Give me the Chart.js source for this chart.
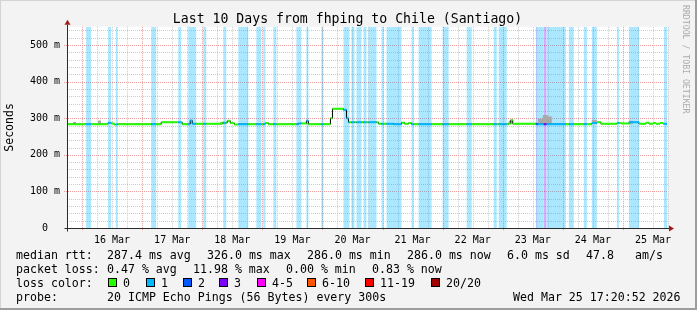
<!DOCTYPE html>
<html>
<head>
<meta charset="utf-8">
<script src="https://cdn.jsdelivr.net/npm/chart.js@4.4.1/dist/chart.umd.min.js"></script>
<style>
  html, body { margin: 0; padding: 0; background: #f3f3f3; }
  #wrap { position: relative; width: 697px; height: 310px; overflow: hidden; background: #f3f3f3;
          font-family: "DejaVu Sans Mono", monospace; color: #000; }
  #chart { position: absolute; left: 0; top: 0; }
  .edge { position: absolute; }
  #title { position: absolute; left: 0; width: 695px; top: 10.5px; text-align: center; font-size: 13.2px;
           line-height: 16px; white-space: pre; }
  .txt { position: absolute; font-size: 11.6px; line-height: 14px; white-space: pre; }
  .sw { position: absolute; width: 7px; height: 7px; border: 1px solid #000; }
  #credit { position: absolute; left: 681px; top: 5px; writing-mode: vertical-rl; font-size: 8.2px;
            line-height: 10px; color: #ababab; white-space: pre; }
</style>
</head>
<body>
<div id="wrap">
  <canvas id="chart" width="697" height="310"></canvas>
  <div class="edge" style="left:0;top:0;width:697px;height:1px;background:#d4d4d4"></div>
  <div class="edge" style="left:0;top:0;width:1px;height:310px;background:#d4d4d4"></div>
  <div class="edge" style="left:695px;top:0;width:2px;height:310px;background:#9c9c9c"></div>
  <div class="edge" style="left:0;top:308px;width:697px;height:2px;background:#9c9c9c"></div>
  <div id="title">Last 10 Days from fhping to Chile (Santiago)</div>
  <div id="credit">RRDTOOL / TOBI OETIKER</div>
  <div id="legend"></div>
</div>

<script>
// ===== Data (x in hours since start of the 10 day window) =====
const dayLabels = ["16 Mar", "17 Mar", "18 Mar", "19 Mar", "20 Mar", "21 Mar", "22 Mar", "23 Mar", "24 Mar", "25 Mar"];

// median rtt in ms, each value holds until the next hour mark
const medianHours = [0, 16.4, 17.6, 18.8, 20, 37.6, 46, 49.2, 50, 62, 64, 65.2, 66.8, 68.4, 79.2, 80.4,
  92.4, 95.6, 96.4, 105.2, 106, 110.4, 111.6, 112.4, 124.4, 130.4, 133.6, 134.8, 136.4, 137.6,
  176.4, 177.2, 178, 187.6, 209.6, 211.6, 213.2, 219.6, 221.2, 224.4, 228.4, 231.2, 232.4, 234,
  235.2, 236.8, 238];
const medianMs = [284, 288, 286, 283, 284, 289, 284, 294, 285, 288, 293, 287, 283, 284, 287, 284,
  286, 293, 284, 300, 326, 323, 300, 289, 285, 284, 288, 285, 287, 284,
  286, 295, 285, 284, 287, 289, 285, 287, 286, 289, 285, 288, 285, 287,
  285, 287, 285];
const lastHour = 239.6;

// packet loss periods: start hour, end hour, loss level (1 = "1", 2 = "2", 3 = "3")
const lossStart = [7.6, 16.4, 19.5, 33.6, 44.4, 48.4, 54.4, 62.4, 68.4, 75.6, 78.4, 82.4, 91.6, 95.6, 101.6,
  110.4, 113.6, 115.6, 118.4, 120.4, 125.6, 127.6, 137.6, 140.4, 150, 159.6, 170.4, 172.4,
  187.2, 188, 190.4, 191.5, 200.4, 206.4, 209.6, 219.6, 224.4, 238.4];
const lossEnd = [9.6, 17.6, 20.3, 35.6, 45.6, 51.6, 55.6, 63.6, 72.4, 77.6, 79.2, 83.6, 93.6, 96.4, 102.4,
  112.8, 114.8, 117.6, 119.6, 123.6, 126.4, 133.6, 138.4, 145.6, 152.4, 161.6, 171.6, 175.6,
  188, 190.4, 191.5, 199.2, 202.4, 207.6, 211.6, 220.4, 228.4, 239.6];
const lossLevel = [1, 1, 1, 1, 1, 1, 1, 1, 1, 1, 1, 1, 1, 1, 1,
  1, 1, 1, 1, 1, 1, 1, 1, 1, 1, 1, 1, 1,
  2, 1, 3, 1, 1, 1, 1, 1, 1, 1];

// smoke (spread of the 20 pings above the median)
const smokeStart = [2.4, 12.4, 61.2, 176.4, 188, 190, 192, 209.6, 224.4];
const smokeEnd = [3.6, 13.6, 63.6, 177.6, 190, 192, 193.6, 211.6, 226];
const smokeTopMs = [290, 294, 290, 293, 299, 309, 305, 295, 293];

// ===== Colours =====
const lossColors = ["#26ff00", "#00b8ff", "#0059ff", "#7e00ff", "#ff00ff", "#ff5500", "#ff0000", "#a10000"];
const lossBg = ["", "rgba(0,184,255,0.33)", "rgba(0,89,255,0.33)", "rgba(126,0,255,0.33)"];
const FONT = "DejaVu Sans Mono";
const yMax = 550;
const MINOR = "#cccccc";
const MAJOR = "#eb9c9c";

// ===== Helpers =====
function valueAt(h) {
  let v = medianMs[0];
  for (let i = 0; i < medianHours.length; i++) {
    if (medianHours[i] <= h) v = medianMs[i];
  }
  return v;
}

function levelAt(h) {
  for (let i = 0; i < lossStart.length; i++) {
    if (h >= lossStart[i] && h < lossEnd[i]) return lossLevel[i];
  }
  return 0;
}

function stripePoints(level) {
  const pts = [];
  lossStart.forEach((s, i) => {
    if (lossLevel[i] !== level) return;
    pts.push({ x: s, y: yMax }, { x: lossEnd[i], y: 0 });
  });
  return pts;
}

// median as one step line (black, shows the vertical jumps)
const medianPts = medianHours.map((h, i) => ({ x: h, y: medianMs[i] }));
medianPts.push({ x: lastHour, y: medianMs[medianMs.length - 1] });

// median split into flat pieces coloured by loss
const cuts = [...new Set([...medianHours, ...lossStart, ...lossEnd, lastHour])]
  .filter(h => h <= lastHour).sort((a, b) => a - b);
const colouredPts = [];
for (let i = 0; i < cuts.length - 1; i++) {
  const v = valueAt(cuts[i]);
  colouredPts.push({ x: cuts[i], y: v }, { x: cuts[i + 1], y: v }, { x: cuts[i + 1], y: null });
}

const smokePts = [];
smokeStart.forEach((s, i) => {
  smokePts.push({ x: s, y: smokeTopMs[i] }, { x: smokeEnd[i], y: 284 });
});

// ===== Plugins =====
const canvasBg = {
  id: "canvasBg",
  beforeDraw(chart) {
    const { ctx, chartArea: a } = chart;
    ctx.save();
    ctx.fillStyle = "#ffffff";
    ctx.fillRect(a.left, a.top, a.right - a.left, a.bottom - a.top);
    ctx.restore();
  }
};

// dotted rrdtool style grid, drawn under the data
const dottedGrid = {
  id: "dottedGrid",
  beforeDatasetsDraw(chart) {
    const { ctx, chartArea: a, scales: { x, y } } = chart;
    ctx.save();
    ctx.lineWidth = 1;
    ctx.setLineDash([1, 1]);
    for (let h = 6; h <= 240; h += 6) {
      const px = Math.round(x.getPixelForValue(h)) + 0.5;
      const major = (h - 6) % 24 === 0;
      ctx.strokeStyle = major ? MAJOR : MINOR;
      ctx.beginPath();
      ctx.moveTo(px, a.top);
      ctx.lineTo(px, a.bottom + (major ? 3 : 0));
      ctx.stroke();
    }
    for (let v = 20; v <= 540; v += 20) {
      const py = Math.round(y.getPixelForValue(v)) + 0.5;
      const major = v % 100 === 0;
      ctx.strokeStyle = major ? MAJOR : MINOR;
      ctx.beginPath();
      ctx.moveTo(a.left - (major ? 3 : 0), py);
      ctx.lineTo(a.right, py);
      ctx.stroke();
    }
    ctx.restore();
  }
};

const axesArrows = {
  id: "axesArrows",
  afterDraw(chart) {
    const { ctx, chartArea: a } = chart;
    const x0 = Math.round(a.left) + 0.5;
    const y0 = Math.round(a.bottom) + 0.5;
    ctx.save();
    ctx.strokeStyle = "#2a2a2a";
    ctx.lineWidth = 1;
    ctx.beginPath();
    ctx.moveTo(x0, y0 + 3);
    ctx.lineTo(x0, a.top - 2);
    ctx.moveTo(x0 - 3, y0);
    ctx.lineTo(a.right + 1, y0);
    ctx.stroke();
    ctx.fillStyle = "#9e1c1c";
    ctx.beginPath();
    ctx.moveTo(x0, a.top - 7);
    ctx.lineTo(x0 - 3, a.top - 2);
    ctx.lineTo(x0 + 3, a.top - 2);
    ctx.closePath();
    ctx.fill();
    ctx.beginPath();
    ctx.moveTo(a.right + 6, y0);
    ctx.lineTo(a.right + 1, y0 - 3);
    ctx.lineTo(a.right + 1, y0 + 3);
    ctx.closePath();
    ctx.fill();
    ctx.restore();
  }
};

// ===== Chart =====
const ctx = document.getElementById("chart").getContext("2d");
const lossDatasets = [1, 2, 3].map(level => ({
  data: stripePoints(level),
  stepped: true,
  fill: "origin",
  backgroundColor: lossBg[level],
  borderColor: "rgba(0,0,0,0)",
  borderWidth: 0,
  pointRadius: 0,
  order: 10
}));

new Chart(ctx, {
  type: "line",
  data: {
    datasets: [
      ...lossDatasets,
      {
        data: smokePts,
        stepped: true,
        fill: { value: 284 },
        backgroundColor: "#a9a9a9",
        borderColor: "rgba(0,0,0,0)",
        borderWidth: 0,
        pointRadius: 0,
        order: 5
      },
      {
        data: medianPts,
        stepped: true,
        fill: false,
        borderColor: "#000000",
        borderWidth: 1,
        pointRadius: 0,
        order: 2
      },
      {
        data: colouredPts,
        fill: false,
        borderWidth: 2,
        borderCapStyle: "butt",
        pointRadius: 0,
        spanGaps: false,
        segment: {
          borderColor: c => lossColors[levelAt((c.p0.parsed.x + c.p1.parsed.x) / 2)]
        },
        order: 1
      }
    ]
  },
  options: {
    responsive: false,
    animation: false,
    events: [],
    layout: { padding: { left: 0, right: 29, top: 26.84, bottom: 0 } },
    plugins: {
      legend: { display: false },
      tooltip: { enabled: false },
      title: { display: false }
    },
    scales: {
      x: {
        type: "linear",
        min: 0,
        max: 240,
        afterFit: s => { s.height = 82; },
        border: { display: false },
        grid: { display: false, drawTicks: true, tickLength: 3 },
        ticks: {
          stepSize: 6,
          autoSkip: false,
          maxRotation: 0,
          padding: 3,
          color: "#000",
          font: { family: FONT, size: 10 },
          callback: v => {
            const h = Math.round(v);
            return (h - 18) % 24 === 0 ? dayLabels[(h - 18) / 24] : "";
          }
        }
      },
      y: {
        min: 0,
        max: yMax,
        afterFit: s => { s.width = 67; },
        afterBuildTicks: s => { s.ticks = s.ticks.filter(t => t.value <= 540); },
        border: { display: false },
        title: {
          display: true,
          text: "Seconds",
          color: "#000",
          font: { family: FONT, size: 11.5 },
          padding: { top: 3, bottom: 0 }
        },
        grid: { display: false, drawTicks: true, tickLength: 3 },
        ticks: {
          stepSize: 20,
          autoSkip: false,
          padding: 4,
          color: "#000",
          font: { family: FONT, size: 10 },
          callback: v => {
            const n = Math.round(v);
            if (n % 100 !== 0) return "";
            return n === 0 ? "0  " : n + " m";
          }
        }
      }
    }
  },
  plugins: [canvasBg, dottedGrid, axesArrows]
});

// ===== Legend text =====
const legendRows = [
  [[16, "median rtt:"], [107, "287.4 ms avg"], [207, "326.0 ms max"], [307, "286.0 ms min"],
   [407, "286.0 ms now"], [507, "6.0 ms sd"], [586, "47.8"], [635, "am/s"]],
  [[16, "packet loss:"], [107, "0.47 % avg"], [193, "11.98 % max"], [286, "0.00 % min"], [372, "0.83 % now"]],
  [[16, "loss color:"]],
  [[16, "probe:"], [107, "20 ICMP Echo Pings (56 Bytes) every 300s"], [513, "Wed Mar 25 17:20:52 2026"]]
];
const rowTops = [247.5, 261.5, 275.5, 289.5];
const swatchX = [108, 146, 183, 219, 257, 307, 365, 431];
const swatchText = ["0", "1", "2", "3", "4-5", "6-10", "11-19", "20/20"];

const legendEl = document.getElementById("legend");
legendRows.forEach((row, r) => {
  row.forEach(([x, text]) => {
    const d = document.createElement("div");
    d.className = "txt";
    d.style.left = x + "px";
    d.style.top = rowTops[r] + "px";
    d.textContent = text;
    legendEl.appendChild(d);
  });
});
swatchX.forEach((x, i) => {
  const s = document.createElement("div");
  s.className = "sw";
  s.style.left = x + "px";
  s.style.top = "278px";
  s.style.background = lossColors[i];
  legendEl.appendChild(s);
  const t = document.createElement("div");
  t.className = "txt";
  t.style.left = (x + 15) + "px";
  t.style.top = rowTops[2] + "px";
  t.textContent = swatchText[i];
  legendEl.appendChild(t);
});
</script>
</body>
</html>
